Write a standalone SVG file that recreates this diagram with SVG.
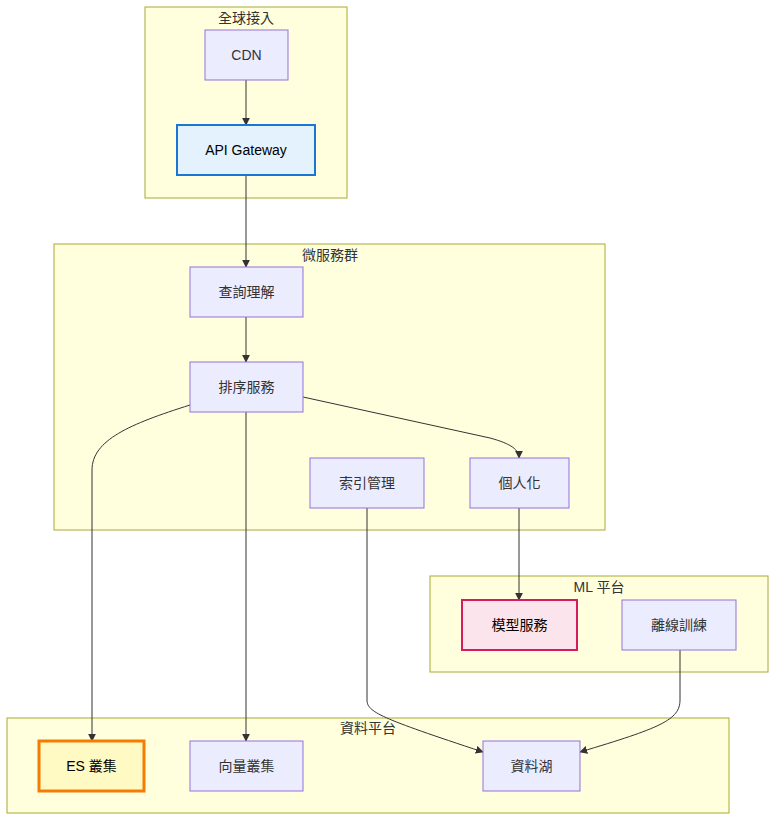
<svg xmlns="http://www.w3.org/2000/svg" width="784" height="830" viewBox="0 0 784 830">
<style>
.cluster{fill:#ffffde;stroke:#aaaa33;stroke-width:1}
.ctitle{font-family:"Liberation Sans","Noto Sans CJK TC",sans-serif;font-size:14px;fill:#333;text-anchor:middle}
.node{fill:#ececff;stroke:#9370db;stroke-width:1}
.label{font-family:"Liberation Sans","Noto Sans CJK TC",sans-serif;font-size:14px;fill:#333;text-anchor:middle;dominant-baseline:central}
.edge{fill:none;stroke:#333;stroke-width:1;marker-end:url(#arrow)}
</style>
<defs>
<marker id="arrow" viewBox="0 0 10 10" refX="9" refY="5" markerWidth="8" markerHeight="8" orient="auto" markerUnits="userSpaceOnUse">
<path d="M0,0 L10,5 L0,10 z" fill="#333"/>
</marker>
</defs>
<g id="clusters">
<g id="cluster-global"><rect class="cluster" x="145" y="7" width="202" height="191"/><text class="ctitle" x="246" y="23">全球接入</text></g>
<g id="cluster-micro"><rect class="cluster" x="54" y="244" width="551" height="286"/><text class="ctitle" x="330" y="260">微服務群</text></g>
<g id="cluster-ml"><rect class="cluster" x="430" y="576" width="338" height="96"/><text class="ctitle" x="599" y="592">ML 平台</text></g>
<g id="cluster-data"><rect class="cluster" x="7" y="718" width="722" height="95"/><text class="ctitle" x="368" y="733">資料平台</text></g>
</g>
<g id="edges">
<path class="edge" d="M246,80 L246,125"/>
<path class="edge" d="M246,175 L246,267"/>
<path class="edge" d="M246,317 L246,362"/>
<path class="edge" d="M190,405 C130,424 92,440 92,470 L92,741"/>
<path class="edge" d="M246,412 L246,741"/>
<path class="edge" d="M303,397 L490,438 C512,444 519,450 519,458"/>
<path class="edge" d="M367,508 L367,700 C367,712 380,718 483,752"/>
<path class="edge" d="M519,508 L519,600"/>
<path class="edge" d="M680,650 L680,700 C680,720 660,728 580,752"/>
</g>
<g id="node-cdn"><rect class="node" x="205" y="30" width="83" height="50"/><text class="label" x="246.5" y="55">CDN</text></g>
<g id="node-api"><rect x="177" y="125" width="138" height="50" fill="#e3f2fd" stroke="#1976d2" stroke-width="2"/><text class="label" x="246" y="150" style="fill:#000">API Gateway</text></g>
<g id="node-query"><rect class="node" x="190" y="267" width="113" height="50"/><text class="label" x="246.5" y="292">查詢理解</text></g>
<g id="node-rank"><rect class="node" x="190" y="362" width="113" height="50"/><text class="label" x="246.5" y="387">排序服務</text></g>
<g id="node-index"><rect class="node" x="310" y="458" width="114" height="50"/><text class="label" x="367" y="483">索引管理</text></g>
<g id="node-person"><rect class="node" x="470" y="458" width="99" height="50"/><text class="label" x="519.5" y="483">個人化</text></g>
<g id="node-model"><rect x="462" y="600" width="115" height="50" fill="#fce4ec" stroke="#d81b60" stroke-width="2"/><text class="label" x="519.5" y="625" style="fill:#000">模型服務</text></g>
<g id="node-train"><rect class="node" x="622" y="600" width="114" height="50"/><text class="label" x="679" y="625">離線訓練</text></g>
<g id="node-es"><rect x="39" y="741" width="105" height="50" fill="#fff9c4" stroke="#f57c00" stroke-width="3"/><text class="label" x="91.5" y="766" style="fill:#000">ES 叢集</text></g>
<g id="node-vector"><rect class="node" x="190" y="741" width="113" height="50"/><text class="label" x="246.5" y="766">向量叢集</text></g>
<g id="node-lake"><rect class="node" x="483" y="741" width="97" height="50"/><text class="label" x="531.5" y="766">資料湖</text></g>
</svg>
